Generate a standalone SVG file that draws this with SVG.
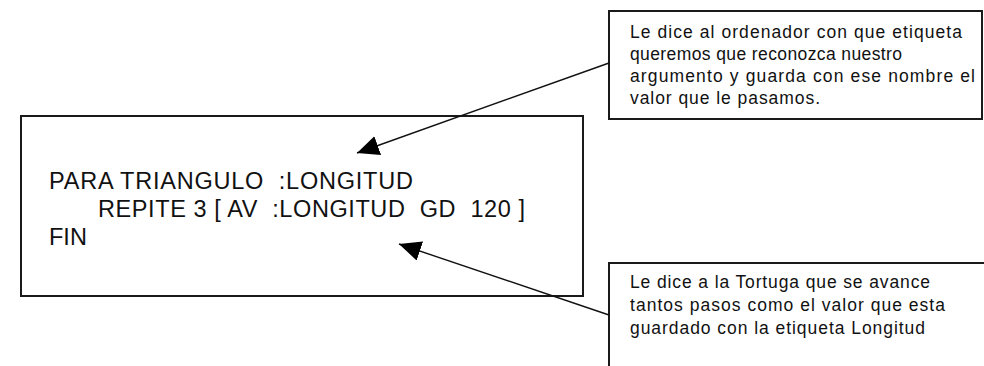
<svg xmlns="http://www.w3.org/2000/svg" width="984" height="366" viewBox="0 0 984 366">
<style>
.box{fill:#fff;stroke:#1a1a1a;stroke-width:2}
.code{font-family:"Liberation Sans",Arial,sans-serif;font-size:23.5px;fill:#111}
.note{font-family:"Liberation Sans",Arial,sans-serif;font-size:17.5px;fill:#111}
.conn{fill:none;stroke:#111;stroke-width:1.4}
</style>
<defs>
<marker id="ah" viewBox="0 0 22 20" refX="22" refY="10" markerWidth="22" markerHeight="20" markerUnits="userSpaceOnUse" orient="auto">
<path d="M0,0 L22,10 L0,20 z" fill="#000"/>
</marker>
</defs>
<rect width="984" height="366" fill="#fff"/>
<g id="code-box">
<rect class="box" x="21" y="116" width="562" height="180"/>
<text class="code" x="49" y="189" textLength="364" lengthAdjust="spacing" xml:space="preserve">PARA TRIANGULO  :LONGITUD</text>
<text class="code" x="98" y="217" textLength="427" lengthAdjust="spacing" xml:space="preserve">REPITE 3 [ AV  :LONGITUD  GD  120 ]</text>
<text class="code" x="49" y="245" xml:space="preserve">FIN</text>
</g>
<g id="note-argument">
<rect class="box" x="609" y="11" width="373" height="108"/>
<text class="note" x="630" y="38" textLength="332" lengthAdjust="spacing">Le dice al ordenador con que etiqueta</text>
<text class="note" x="630" y="60" textLength="272" lengthAdjust="spacing">queremos que reconozca nuestro</text>
<text class="note" x="630" y="82" textLength="345" lengthAdjust="spacing">argumento y guarda con ese nombre el</text>
<text class="note" x="630" y="104" textLength="190" lengthAdjust="spacing">valor que le pasamos.</text>
</g>
<g id="note-av">
<rect class="box" x="609" y="263" width="380" height="120"/>
<text class="note" x="630" y="288" textLength="300" lengthAdjust="spacing">Le dice a la Tortuga que se avance</text>
<text class="note" x="630" y="311" textLength="315" lengthAdjust="spacing">tantos pasos como el valor que esta</text>
<text class="note" x="630" y="334" textLength="295" lengthAdjust="spacing">guardado con la etiqueta Longitud</text>
</g>
<g id="connectors">
<line class="conn" x1="609" y1="63" x2="357" y2="153" marker-end="url(#ah)"/>
<line class="conn" x1="609" y1="315" x2="399" y2="244" marker-end="url(#ah)"/>
</g>
</svg>
